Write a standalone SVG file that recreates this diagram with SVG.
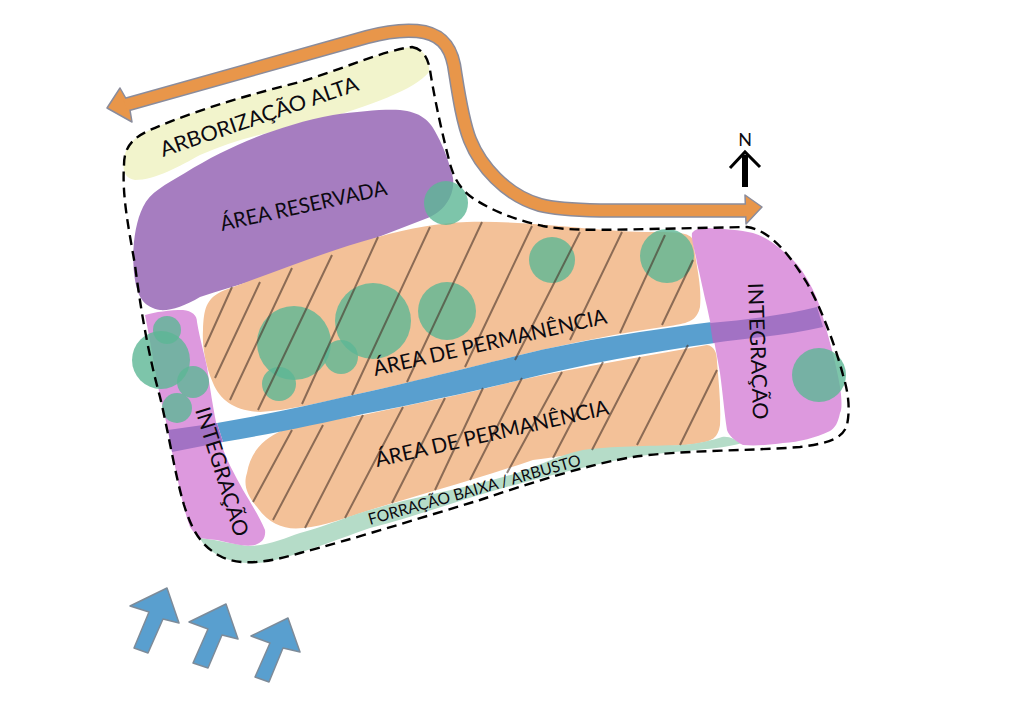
<svg xmlns="http://www.w3.org/2000/svg" width="1019" height="705" viewBox="0 0 1019 705">
<style>
text{font-family:"Lato","Open Sans","Liberation Sans",sans-serif;fill:#0c0a10}
.lbl{font-size:21px}
.hatch{stroke:#463228;stroke-opacity:.6;stroke-width:2;fill:none}
.tree{fill:#5cb795;opacity:.8}
.wind{fill:#599fcf;stroke:#7d8b99;stroke-width:1.5;stroke-linejoin:round}
.ol{fill:none;stroke:#8a8c9c;stroke-width:14.5}
.or{fill:none;stroke:#e8964a;stroke-width:11.5}
</style>
<rect width="1019" height="705" fill="#fff"/>
<g id="arborizacao">
<path fill="#f2f4cc" d="M412,47 C423,49 430,58 429,72 C415,90 370,105 317,122 C280,130 240,137 200,155 C180,166 155,180 135,180 C125,179 122,170 124,160 C125,145 135,137 150,130 C200,108 260,92 300,82 C340,70 385,50 412,47Z"/>
</g>
<g id="area-reservada">
<path fill="#a67dc0" d="M400,110 C420,112 430,120 437,135 C445,150 450,165 453,178 C455,195 445,212 425,219 C380,236 340,253 293,268 C260,279 230,287 200,297 C185,306 170,311 160,310 C145,307 138,299 135,280 C131,255 134,225 143,207 C150,192 165,185 185,173 C230,145 280,125 333,115 C360,111 385,109 400,110Z"/>
</g>
<g id="permanencia-norte">
<path fill="#f3c198" d="M467,222 C530,220 600,232 653,232 C675,232 690,232 693,240 C696,265 702,285 700,307 C697,320 690,323 670,326 C620,333 570,343 520,355 C460,370 400,385 353,395 C320,403 290,410 260,412 C235,411 220,400 213,383 C205,365 202,345 203,330 C204,310 205,298 225,290 C280,270 330,250 378,237 C410,228 440,223 467,222Z"/>
</g>
<g id="permanencia-sul">
<path fill="#f3c198" d="M707,345 C714,346 717,352 717,362 C719,385 721,405 720,425 C718,438 712,441 700,443 C680,447 650,446 633,448 C600,450 570,455 533,460 C480,478 420,495 370,510 C345,518 325,526 303,528 C285,530 270,525 257,507 C247,495 243,485 247,473 C250,455 260,440 283,430 C310,422 340,419 363,415 C420,403 470,393 520,380 C580,367 640,357 707,345Z"/>
</g>
<g id="forracao">
<path fill="#b5dcc8" d="M742,443 C735,440 730,436 722,437 C712,440 700,444 680,445 C650,446 610,446 583,450 C560,455 540,465 520,472 C470,488 420,495 370,510 C345,517 330,525 300,533 C285,538 270,545 250,546 C235,545 220,540 200,538 C205,550 225,562 247,563 C270,565 300,553 370,528 C420,515 460,500 503,488 C540,478 590,465 633,457 C680,450 720,450 742,443Z"/>
</g>
<g id="eixo">
<path fill="#599fcf" d="M217,423 C265,415 310,405 353,395 C420,380 470,367 520,355 C580,340 650,330 712,322 L715,343 C650,352 580,365 520,380 C470,392 420,403 363,414 C320,424 270,434 223,442Z"/>
</g>
<g id="integracao-leste">
<path fill="#dd99de" d="M692,233 C695,229 700,228 707,228 C725,229 740,230 753,233 C770,238 782,250 793,260 C805,272 815,292 820,307 C828,335 836,362 840,387 C842,400 842,410 840,413 C838,423 835,428 830,431 C815,438 800,442 783,443 C770,445 755,446 743,445 C735,441 729,436 727,430 C724,410 723,395 720,373 C716,350 712,330 707,307 C703,290 700,275 697,263 C695,250 691,240 692,233Z"/>
<path fill="#a272c4" d="M710,323 C745,320 785,315 817,307 L823,327 C790,335 750,338 713,343Z"/>
</g>
<g id="integracao-oeste">
<path fill="#dd99de" d="M145,315 C155,312 170,310 183,310 C192,311 197,315 197,322 C200,340 204,352 207,367 C211,395 215,420 220,440 C226,460 235,475 243,490 C252,505 260,518 265,530 C266,538 262,543 255,545 C245,547 235,544 217,540 C208,539 205,539 200,538 C195,534 192,530 190,527 C182,505 178,480 173,457 C168,430 165,415 160,397 C155,370 150,340 145,315Z"/>
<path fill="#a272c4" d="M168,430 L217,423 L223,442 L172,452Z"/>
</g>
<g id="arvores">
<circle class="tree" cx="446" cy="203" r="22"/>
<circle class="tree" cx="552" cy="260" r="23"/>
<circle class="tree" cx="667" cy="256" r="27"/>
<circle class="tree" cx="447" cy="311" r="29"/>
<circle class="tree" cx="373" cy="321" r="38"/>
<circle class="tree" cx="294" cy="343" r="37"/>
<circle class="tree" cx="341" cy="357" r="17"/>
<circle class="tree" cx="279" cy="384" r="17"/>
<circle class="tree" cx="161" cy="360" r="29"/>
<circle class="tree" cx="167" cy="330" r="14"/>
<circle class="tree" cx="193" cy="382" r="16"/>
<circle class="tree" cx="177" cy="408" r="15"/>
<circle class="tree" cx="819" cy="375" r="27"/>
</g>
<g id="hachura" class="hatch">
<path d="M232,287L205,347M260,282L215,378M292,268L230,400M332,255L258,410M378,237L302,404M430,227L352,395M482,222L407,382M532,226L465,367M580,232L515,360M622,232L570,340M665,235L620,333M693,260L662,325"/>
<path d="M292,430L253,502M323,425L273,520M363,415L305,528M403,407L345,518M445,398L392,503M483,388L435,490M522,378L470,480M562,372L507,473M603,362L553,458M640,357L592,450M688,345L637,445M717,370L680,445"/>
</g>
<g id="rotulos">
<text class="lbl" transform="translate(163,157) rotate(-18.8)" textLength="208" lengthAdjust="spacingAndGlyphs">ARBORIZAÇÃO ALTA</text>
<text class="lbl" transform="translate(222,231) rotate(-12.4)" textLength="170" lengthAdjust="spacingAndGlyphs">ÁREA RESERVADA</text>
<text class="lbl" transform="translate(375,376) rotate(-12.8)" textLength="239" lengthAdjust="spacingAndGlyphs">ÁREA DE PERMANÊNCIA</text>
<text class="lbl" transform="translate(377,467) rotate(-12.8)" textLength="239" lengthAdjust="spacingAndGlyphs">ÁREA DE PERMANÊNCIA</text>
<text transform="translate(370,525) rotate(-15.8)" font-size="16" textLength="220" lengthAdjust="spacingAndGlyphs">FORRAÇÃO BAIXA / ARBUSTO</text>
<text class="lbl" transform="translate(748,283) rotate(87.8)" textLength="137" lengthAdjust="spacingAndGlyphs">INTEGRAÇÃO</text>
<text class="lbl" transform="translate(195,410) rotate(72.6)" textLength="134" lengthAdjust="spacingAndGlyphs">INTEGRAÇÃO</text>
</g>
<g id="connectors">
<path id="limite" fill="none" stroke="#000" stroke-width="2.4" stroke-dasharray="10 6" d="M412,47 C423,49 428,58 430,70 C433,90 440,125 449,160 C453,176 458,186 470,196 C485,207 510,219 543,226 C570,231 600,230 650,229 L747,227 C770,230 790,255 807,283 C822,310 835,345 843,375 C849,395 850,410 847,425 C843,438 830,443 800,447 C750,451 680,450 633,457 C590,464 530,483 480,500 C420,518 350,540 300,553 C270,562 240,567 220,556 C200,545 192,530 184,505 C175,475 168,430 160,397 C150,360 142,320 135,265 C128,225 122,195 124,165 C124,145 135,137 150,130 C200,108 260,92 300,82 C340,70 385,50 412,47Z"/>
<g id="fluxo">
<path class="ol" d="M125,105 L367,37 C385,32 405,30 417,31 C440,33 450,45 454,65 C458,90 462,120 470,140 C480,165 505,195 540,205 C555,209 580,210 600,210.500 L745,210.500"/>
<path fill="#e8964a" stroke="#8a8c9c" stroke-width="1.5" stroke-linejoin="round" d="M107,108 L120,88 L128,102 L130,110 L132,122Z M762,207 L745,195 L746,224Z"/>
<path class="or" d="M125,105 L367,37 C385,32 405,30 417,31 C440,33 450,45 454,65 C458,90 462,120 470,140 C480,165 505,195 540,205 C555,209 580,210 600,210.500 L748,210.500"/>
</g>
</g>
<g id="norte">
<text x="745" y="146" font-size="18" text-anchor="middle">N</text>
<path d="M745,187V155" stroke="#000" stroke-width="6" fill="none"/>
<path d="M730,168L745,152L760,167" stroke="#000" stroke-width="3" fill="none"/>
</g>
<g id="ventos">
<path class="wind" d="M167,588 L130,606 L149,612 L134,648 L148,653 L163,619 L179,623Z"/>
<path class="wind" d="M226,604 L189,622 L208,629 L193,663 L208,668 L222,635 L238,639Z"/>
<path class="wind" d="M288,618 L251,636 L270,643 L255,677 L269,682 L283,648 L300,652Z"/>
</g>
</svg>
